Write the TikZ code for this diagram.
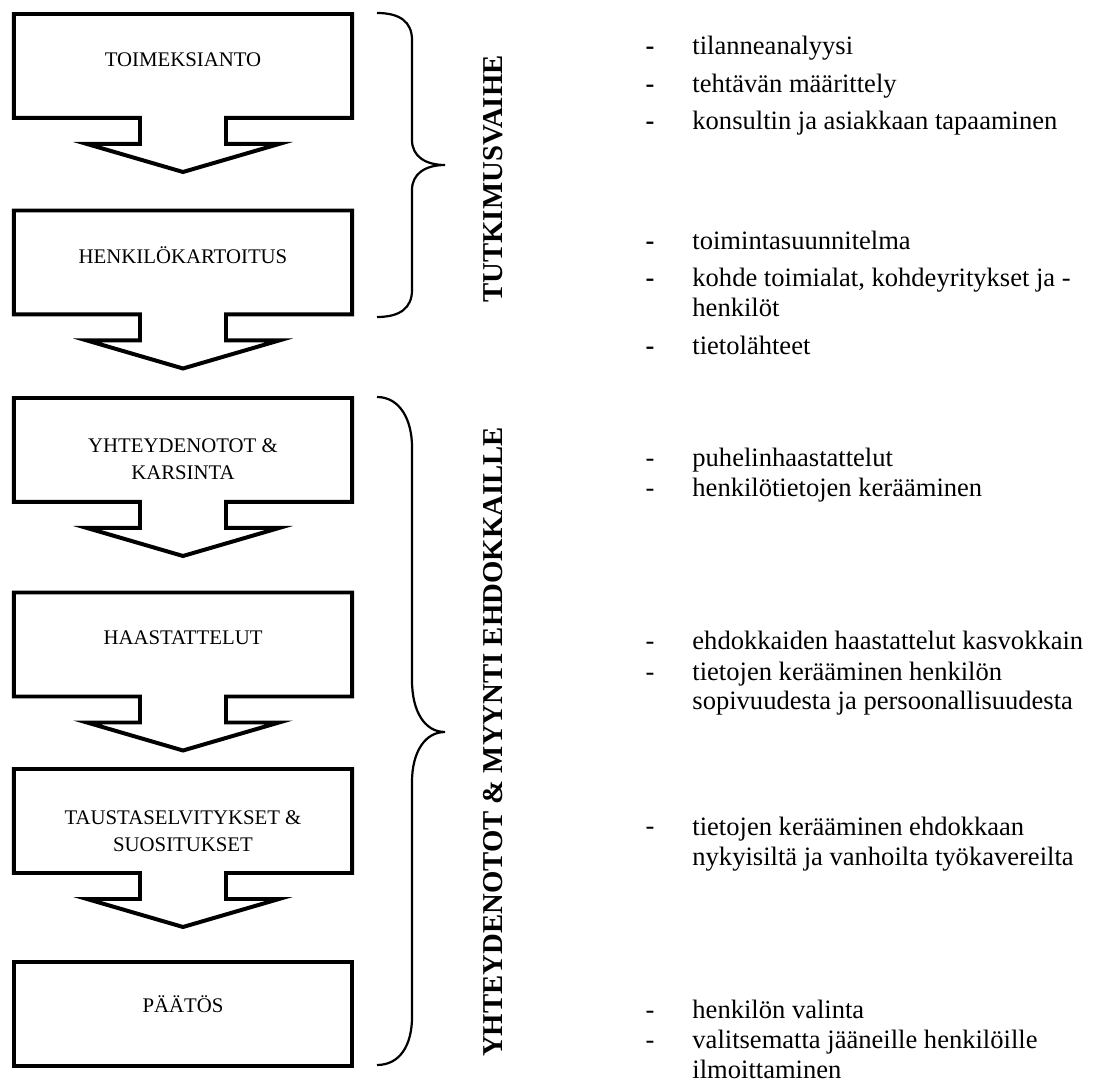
\documentclass[tikz,border=0pt]{standalone}
\usepackage{fontspec}
\setmainfont{Liberation Serif}
\usetikzlibrary{calc}

% box with a downward arrow under it
\newcommand{\arrowbox}[1]{%
	\draw[boxline] (#1.north west) -- (#1.north east) -- (#1.south east)
	-- ($(#1.south)+(43,0)$) -- ($(#1.south)+(43,26)$) -- ($(#1.south)+(96,26)$)
	-- ($(#1.south)+(0,54)$) -- ($(#1.south)+(-96,26)$) -- ($(#1.south)+(-43,26)$)
	-- ($(#1.south)+(-43,0)$) -- (#1.south west) -- cycle;}

\begin{document}
\begin{tikzpicture}[%
		x=0.452pt,y=-0.452pt,
		stepbox/.style={minimum width=152.8pt,minimum height=47pt,inner sep=0pt,outer sep=0pt},
		boxline/.style={line width=1.8pt,line join=miter},
		boxlabel/.style={anchor=base,align=center,inner sep=0pt,font=\fontsize{9.4}{11.8}\selectfont},
		phaselabel/.style={rotate=90,inner sep=0pt,font=\fontsize{13}{15}\selectfont\bfseries},
		braceline/.style={line width=1pt},
		itemtext/.style={anchor=base west,align=left,inner sep=0pt,font=\fontsize{12}{13.56}\selectfont},
		itemdash/.style={anchor=base,inner sep=0pt,font=\fontsize{12}{13.56}\selectfont}]
		\useasboundingbox (0,0) rectangle (1096,1082);

		% vaiheet
		\node[stepbox] (b1) at (183,66) {};
		\node[stepbox] (b2) at (183,262.5) {};
		\node[stepbox] (b3) at (183,450) {};
		\node[stepbox] (b4) at (183,644.5) {};
		\node[stepbox] (b5) at (183,821) {};
		\node[stepbox,draw,boxline] (b6) at (183,1014) {};
		\arrowbox{b1}
		\arrowbox{b2}
		\arrowbox{b3}
		\arrowbox{b4}
		\arrowbox{b5}

		% base = last line
		\node[boxlabel] (l1) at ($(b1.north)+(0,52)$) {TOIMEKSIANTO};
		\node[boxlabel] (l2) at ($(b2.north)+(0,53)$) {HENKILÖKARTOITUS};
		\node[boxlabel] (l3) at ($(b3.north)+(0,81)$) {YHTEYDENOTOT \&\\KARSINTA};
		\node[boxlabel] (l4) at ($(b4.north)+(0,52)$) {HAASTATTELUT};
		\node[boxlabel] (l5) at ($(b5.north)+(0,82)$) {TAUSTASELVITYKSET \&\\SUOSITUKSET};
		\node[boxlabel] (l6) at ($(b6.north)+(0,50)$) {PÄÄTÖS};

		% aaltosulkeet
		\draw[braceline] (377,13) .. controls (400,13) and (412,22) .. (412,40) -- (412,140)
		.. controls (412,156) and (425,165) .. (445,165)
		.. controls (425,165) and (412,174) .. (412,190) -- (412,290)
		.. controls (412,308) and (400,317) .. (377,317);
		\draw[braceline] (377,397) .. controls (400,397) and (412,420) .. (412,447) -- (412,680)
		.. controls (412,712) and (425,732) .. (445,732)
		.. controls (425,732) and (412,752) .. (412,782) -- (412,1017)
		.. controls (412,1045) and (400,1065) .. (377,1065);
		\node[phaselabel] (p1) at (493,179) {TUTKIMUSVAIHE};
		\node[phaselabel] (p2) at (493,742) {YHTEYDENOTOT \& MYYNTI EHDOKKAILLE};

		% tehtavat (\n = extra lines)
		\foreach \y/\n/\txt in {55/0/{tilanneanalyysi}, 93/0/{tehtävän määrittely},
				130/0/{konsultin ja asiakkaan tapaaminen}, 250/0/{toimintasuunnitelma},
				287/1/{kohde toimialat, kohdeyritykset ja -\\henkilöt}, 355/0/{tietolähteet}}{
			\node[itemdash,font=\fontsize{12}{13.56}\selectfont\bfseries] (d\y) at (650,\y) {-};
			\node[itemtext] (t\y) at (692,{\y+30*\n}) {\txt};
		}
		\foreach \y/\n/\txt in {467/0/{puhelinhaastattelut}, 497/0/{henkilötietojen kerääminen},
				650/0/{ehdokkaiden haastattelut kasvokkain},
				680/1/{tietojen kerääminen henkilön\\sopivuudesta ja persoonallisuudesta},
				835/1/{tietojen kerääminen ehdokkaan\\nykyisiltä ja vanhoilta työkavereilta},
				1018/0/{henkilön valinta}, 1048/1/{valitsematta jääneille henkilöille\\ilmoittaminen}}{
			\node[itemdash] (d\y) at (650,\y) {-};
			\node[itemtext] (t\y) at (692,{\y+30*\n}) {\txt};
		}
	\end{tikzpicture}
\end{document}
